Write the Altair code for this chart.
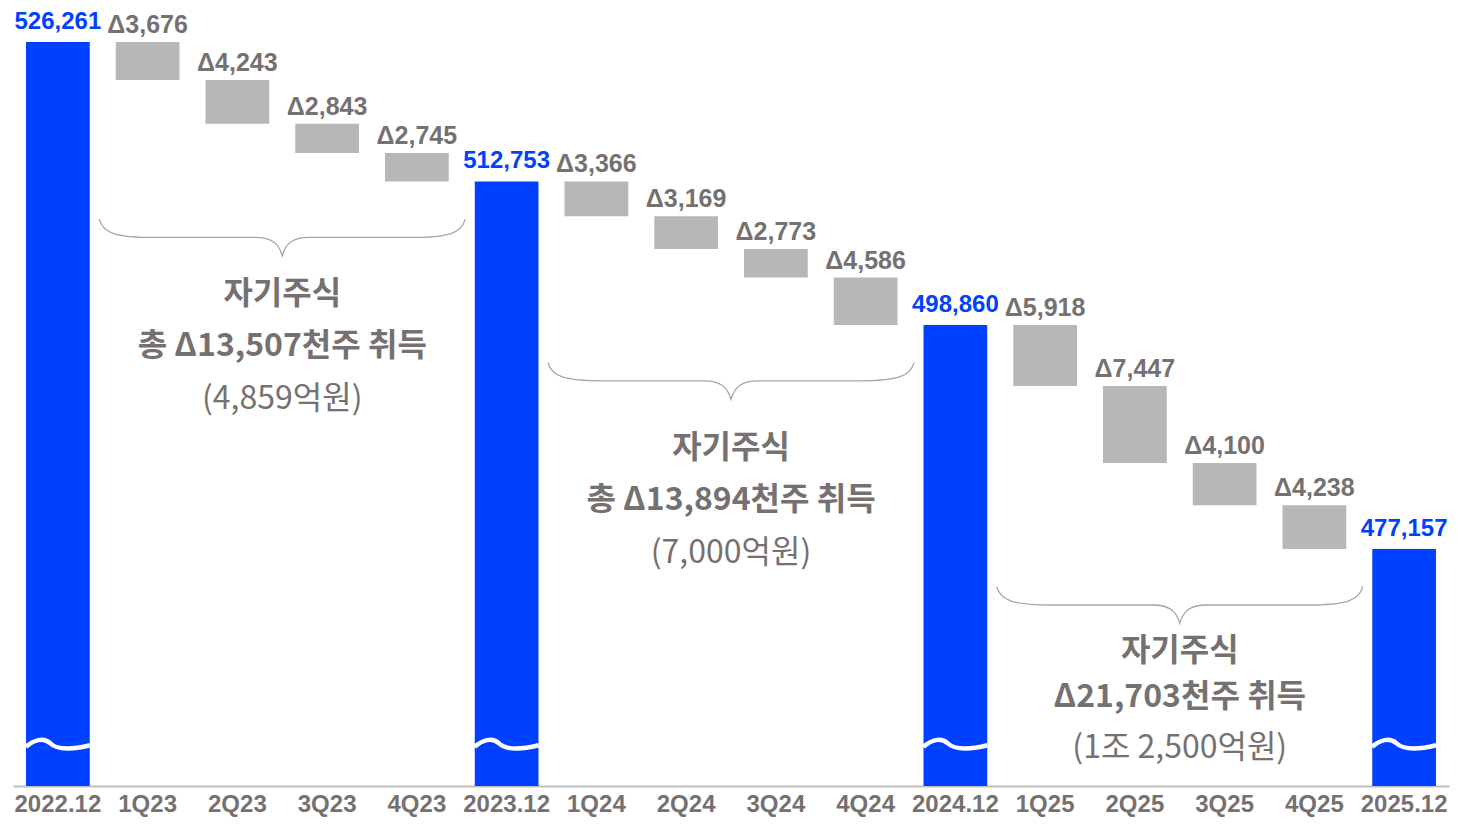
import altair as alt
import pandas as pd

# ---- data ----
categories = ["2022.12", "1Q23", "2Q23", "3Q23", "4Q23",
              "2023.12", "1Q24", "2Q24", "3Q24", "4Q24",
              "2024.12", "1Q25", "2Q25", "3Q25", "4Q25", "2025.12"]
total_cats = ["2022.12", "2023.12", "2024.12", "2025.12"]
total_vals = [526261, 512753, 498860, 477157]
dec_cats = ["1Q23", "2Q23", "3Q23", "4Q23",
            "1Q24", "2Q24", "3Q24", "4Q24",
            "1Q25", "2Q25", "3Q25", "4Q25"]
dec_vals = [3676, 4243, 2843, 2745,
            3366, 3169, 2773, 4586,
            5918, 7447, 4100, 4238]

# annotation texts
group_center_cats = ["2Q23", "2Q24", "2Q25"]
group_end_totals = [512753, 498860, 477157]
ann_line1 = ["자기주식", "자기주식", "자기주식"]
ann_line2 = ["총 Δ13,507천주 취득", "총 Δ13,894천주 취득", "Δ21,703천주 취득"]
ann_line3 = ["(4,859억원)", "(7,000억원)", "(1조 2,500억원)"]
# annotation anchor values (y, in data units) for each text line
ann_y1 = [501900, 486900, 467300]
ann_y2 = [496800, 481900, 462800]
ann_y3 = [491650, 476750, 457900]

Y_MIN, Y_MAX = 454200, 529360
BREAK_Y = 458300

BLUE = "#0041FF"
GRAY_BAR = "#B7B7B7"
TXT_GRAY = "#767171"
BRACE = "#A6A6A6"

# ---- build tables ----
tot_map = dict(zip(total_cats, total_vals))
dec_map = dict(zip(dec_cats, dec_vals))
rows = []
running = None
for c in categories:
    if c in tot_map:
        v = tot_map[c]
        rows.append(dict(cat=c, top=v, bottom=Y_MIN, kind="total",
                         label=f"{v:,}"))
        running = v
    else:
        d = dec_map[c]
        rows.append(dict(cat=c, top=running, bottom=running - d, kind="dec",
                         label=f"Δ{d:,}"))
        running = running - d
df = pd.DataFrame(rows)

braces = pd.DataFrame(dict(cat=group_center_cats, y=group_end_totals))
ann = pd.DataFrame(dict(
    cat=group_center_cats * 3,
    y=ann_y1 + ann_y2 + ann_y3,
    text=ann_line1 + ann_line2 + ann_line3,
    line=[1] * 3 + [2] * 3 + [3] * 3,
))
breaks = pd.DataFrame(dict(cat=total_cats, y=[BREAK_Y] * len(total_cats)))

W = 1436
STEP = W / len(categories)

x = alt.X("cat:N", sort=categories,
          scale=alt.Scale(domain=categories, paddingInner=0.29, paddingOuter=0.145),
          axis=alt.Axis(title=None, labelAngle=0, ticks=False,
                        domainColor="#BFBFBF", domainWidth=2,
                        labelFont="Liberation Sans", labelFontWeight="bold",
                        labelFontSize=24, labelColor=TXT_GRAY, labelPadding=6))
xs = alt.X("cat:N", sort=categories)
yscale = alt.Scale(domain=[Y_MIN, Y_MAX], zero=False, nice=False)

base = alt.Chart(df)

bars = base.mark_bar().encode(
    x=x,
    y=alt.Y("top:Q", scale=yscale, axis=None),
    y2="bottom:Q",
    color=alt.Color("kind:N", scale=alt.Scale(domain=["total", "dec"],
                                              range=[BLUE, GRAY_BAR]), legend=None),
)

tot_labels = base.transform_filter(alt.datum.kind == "total").mark_text(
    font="Liberation Sans", fontWeight="bold", fontSize=24, color=BLUE,
    baseline="alphabetic", dy=-13
).encode(x=xs, y=alt.Y("top:Q", scale=yscale), text="label:N")

dec_labels = base.transform_filter(alt.datum.kind == "dec").mark_text(
    font="Liberation Sans", fontWeight="bold", fontSize=25, color=TXT_GRAY,
    baseline="alphabetic", dy=-9
).encode(x=xs, y=alt.Y("top:Q", scale=yscale), text="label:N")

wave_path = "M -1 0.1 C -0.75 -0.12 -0.45 -0.2 -0.25 -0.02 C -0.05 0.18 0.4 0.2 1 0.05"
waves = alt.Chart(breaks).mark_point(
    shape=wave_path, filled=False, stroke="white", strokeWidth=4.5,
    size=4096, opacity=1
).encode(x=xs, y=alt.Y("y:Q", scale=yscale))

brace_path = ("M -1 -0.1 C -0.98 -0.02 -0.9 0 -0.7 0 L -0.15 0 "
              "C -0.06 0 -0.02 0.03 0 0.1 C 0.02 0.03 0.06 0 0.15 0 "
              "L 0.7 0 C 0.9 0 0.98 -0.02 1 -0.1")
brace_marks = alt.Chart(braces).mark_point(
    shape=brace_path, filled=False, stroke=BRACE, strokeWidth=1.3,
    size=366 * 366, opacity=1, xOffset=STEP / 2, yOffset=56
).encode(x=xs, y=alt.Y("y:Q", scale=yscale))

ann_bold = alt.Chart(ann).transform_filter(alt.datum.line < 3).mark_text(
    font="Noto Sans CJK KR", fontWeight="bold", fontSize=32, color=TXT_GRAY,
    baseline="middle", dx=STEP / 2
).encode(x=xs, y=alt.Y("y:Q", scale=yscale), text="text:N")

ann_reg = alt.Chart(ann).transform_filter(alt.datum.line == 3).mark_text(
    font="Noto Sans CJK KR", fontWeight="normal", fontSize=32, color=TXT_GRAY,
    baseline="middle", dx=STEP / 2
).encode(x=xs, y=alt.Y("y:Q", scale=yscale), text="text:N")

chart = alt.layer(bars, waves, brace_marks, tot_labels, dec_labels, ann_bold, ann_reg).properties(
    width=W, height=776,
    padding={"left": 5, "top": 2, "right": 1, "bottom": 31},
    autosize=alt.AutoSizeParams(type="none"),
    background="white",
).configure_view(stroke="transparent", strokeWidth=0)

chart.save("out.html", embed_options={"renderer": "svg", "actions": False})
